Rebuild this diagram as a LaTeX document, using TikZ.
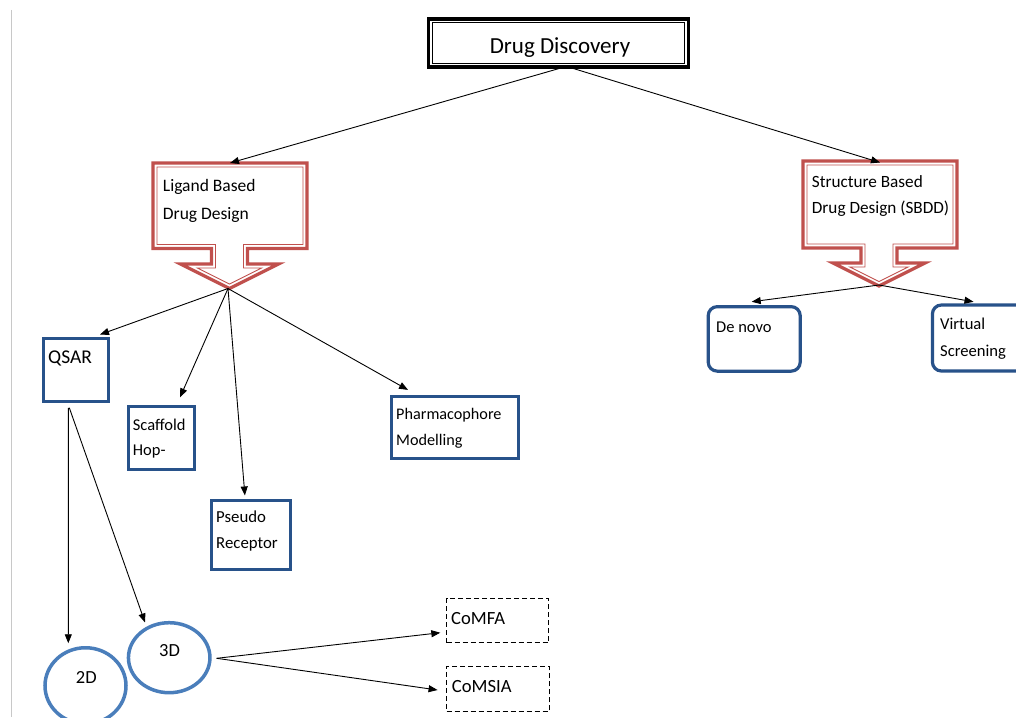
\documentclass[tikz,border=0pt]{standalone}
\usepackage{fontspec}
\setmainfont{Carlito}
\usetikzlibrary{arrows.meta,calc,shapes.geometric}

\definecolor{boxblue}{RGB}{40,82,138}
\definecolor{circblue}{RGB}{74,126,187}
\definecolor{callred}{RGB}{192,80,77}
\definecolor{edgegray}{RGB}{200,200,200}

% double-outlined down-arrow callout: L,T,R,B,cx,stem half width,stem bottom,wing half width,tip y
\newcommand{\dcallout}[9]{%
  \pgfmathsetmacro{\calH}{#9-#7}%
  \pgfmathsetmacro{\calW}{#8*(1-4/\calH)-4*sqrt(#8*#8+\calH*\calH)/\calH}%
  \pgfmathsetmacro{\calT}{4*sqrt(#8*#8+\calH*\calH)/#8}%
  \draw[callred, line width=3.2pt, line join=miter]
    (#1,#2) -- (#3,#2) -- (#3,#4) -- ({#5+#6},#4) -- ({#5+#6},#7) -- ({#5+#8},#7)
    -- (#5,#9) -- ({#5-#8},#7) -- ({#5-#6},#7) -- ({#5-#6},#4) -- (#1,#4) -- cycle;
  \draw[callred, line width=0.9pt, line join=miter]
    ({#1+4},{#2+4}) -- ({#3-4},{#2+4}) -- ({#3-4},{#4-4}) -- ({#5+#6-4},{#4-4})
    -- ({#5+#6-4},{#7+4}) -- ({#5+\calW},{#7+4}) -- (#5,{#9-\calT})
    -- ({#5-\calW},{#7+4}) -- ({#5-#6+4},{#7+4}) -- ({#5-#6+4},{#4-4})
    -- ({#1+4},{#4-4}) -- cycle;
}

\begin{document}
\begin{tikzpicture}[x=1pt,y=-1pt,
  arr/.style={draw=black, line width=0.9pt, -{Triangle[length=9pt,width=7pt]}},
  bluebox/.style={draw=boxblue, line width=3.2pt, rectangle, inner sep=0pt},
  roundbox/.style={bluebox, rounded corners=9pt},
  circ/.style={draw=circblue, line width=3.5pt, ellipse, inner sep=0pt},
  dashbox/.style={draw=black, line width=0.9pt, dash pattern=on 5pt off 3pt, rectangle, inner sep=0pt},
  txt/.style={inner sep=0pt, anchor=base west, align=left},
  t19/.style={font=\fontsize{19.5}{24}\selectfont},
  t18/.style={font=\fontsize{18.5}{24}\selectfont},
  t17/.style={font=\fontsize{16.8}{25.5}\selectfont},
]
\useasboundingbox (0,0) rectangle (1016,717);
\fill[white] (0,0) rectangle (1016,717);

% left page edge
\draw[edgegray, line width=1pt] (11,10) -- (11,717);

% top node
\node[draw=black, line width=3.5pt, rectangle, inner sep=0pt,
      minimum width=260pt, minimum height=48pt] (drug) at (558.5,42.8) {};
\draw[black, line width=0.8pt] ($(drug.north west)+(5.5,5.5)$) rectangle ($(drug.south east)+(-5.5,-5.5)$);
\node[inner sep=0pt, anchor=base, font=\fontsize{23}{28}\selectfont] (drug-t) at (560,53) {Drug Discovery};

% callouts
\dcallout{153}{163}{307}{248.5}{229.5}{18}{264}{49}{288.5}
\dcallout{803}{161}{957}{248}{879}{18}{263}{46}{286}
\coordinate (lbdd-top) at (230,163);
\coordinate (lbdd-tip) at (228,288.5);
\coordinate (sbdd-top) at (880,162.5);
\coordinate (sbdd-tip) at (879,285);
% (multi-line text nodes are placed by the baseline of their last line)
\node[txt, font=\fontsize{17.5}{27.3}\selectfont] (lbdd-t) at (162.7,219) {Ligand Based\\Drug Design};
\node[txt, font=\fontsize{17.2}{25.7}\selectfont] (sbdd-t) at (811.7,213) {Structure Based\\Drug Design (SBDD)};

% ligand based children
\node[bluebox, minimum width=65pt, minimum height=62.5pt] (qsar) at (75.9,369.9) {};
\node[txt, t19] (qsar-t) at (48,363) {QSAR};
\node[bluebox, minimum width=65.8pt, minimum height=62.8pt] (scaf) at (161.2,438) {};
\node[txt, font=\fontsize{16.5}{25}\selectfont] (scaf-t) at (132.7,455) {Scaffold\\Hop-};
\node[bluebox, minimum width=78.5pt, minimum height=68.5pt] (pseudo) at (250.9,534.9) {};
\node[txt, t17] (pseudo-t) at (216,548.2) {Pseudo\\Receptor};
\node[bluebox, minimum width=127pt, minimum height=62pt] (pharma) at (455,427.5) {};
\node[txt, font=\fontsize{16.2}{26}\selectfont] (pharma-t) at (396,445) {Pharmacophore\\Modelling};

% structure based children
\node[roundbox, minimum width=92pt, minimum height=64.5pt] (denovo) at (754.2,338.9) {};
\node[txt, font=\fontsize{16.5}{25}\selectfont] (denovo-t) at (716,332.7) {De novo};
\node[roundbox, minimum width=106pt, minimum height=66pt] (virtual) at (985.4,338) {};
\node[txt, font=\fontsize{16.6}{26.7}\selectfont] (virtual-t) at (940,356) {Virtual\\Screening};

% QSAR children
\node[circ, minimum width=81pt, minimum height=76pt] (d2) at (85.5,685.75) {};
\node[txt, t18] (d2-t) at (75.7,683.3) {2D};
\node[circ, minimum width=81.5pt, minimum height=70pt] (d3) at (169.2,657.7) {};
\node[txt, t18] (d3-t) at (159,656.7) {3D};

\node[dashbox, minimum width=102.3pt, minimum height=44pt] (comfa) at (497.7,620.8) {};
\node[txt, font=\fontsize{18.6}{24}\selectfont] (comfa-t) at (451,624) {CoMFA};
\node[dashbox, minimum width=103pt, minimum height=44.7pt] (comsia) at (498,688.9) {};
\node[txt, font=\fontsize{18.6}{24}\selectfont] (comsia-t) at (451.7,692.7) {CoMSIA};

% connectors
\draw[arr] ($(drug.south)+(0.5,0)$) -- (lbdd-top);
\draw[arr] ($(drug.south)+(15,0)$) -- (sbdd-top);

\draw[arr] (lbdd-tip) -- ($(qsar.north east)+(-10,-2.5)$);
\draw[arr] (lbdd-tip) -- ($(scaf.north)+(18.8,-7.6)$);
\draw[arr] (lbdd-tip) -- ($(pseudo.north)+(-6,-3.6)$);
\draw[arr] (lbdd-tip) -- ($(pharma.north)+(-47,-5)$);

\draw[arr] (sbdd-tip) -- ($(denovo.north)+(-2.5,-3.3)$);
\draw[arr] (sbdd-tip) -- ($(virtual.north west)+(42.7,-1.6)$);

\draw[arr] ($(qsar.south)+(-7.6,5)$) -- ($(d2.north)+(-17.2,-2.75)$);
\draw[arr] ($(qsar.south)+(-6.6,5)$) -- ($(d3.north)+(-24.2,1.5)$);

\draw[arr] ($(d3.east)+(5,0.6)$) -- ($(comfa.west)+(-5.8,11.9)$);
\draw[arr] ($(d3.east)+(5,0.6)$) -- ($(comsia.west)+(-8.5,1.1)$);
\end{tikzpicture}
\end{document}
